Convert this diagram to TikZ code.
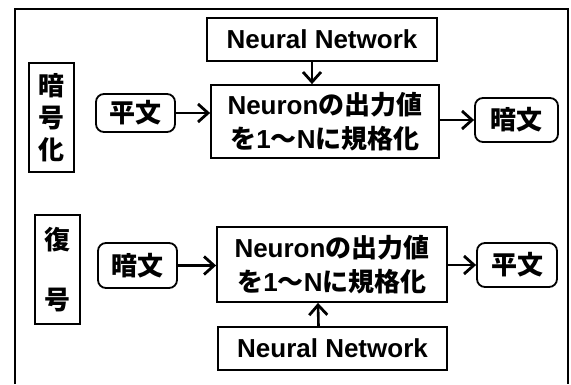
\documentclass[tikz,border=0pt]{standalone}
\usepackage{fontspec}
\setmainfont{Liberation Sans}
\newfontfamily\cjk{Noto Sans CJK JP}
\usetikzlibrary{arrows.meta,calc}
\begin{document}
\begin{tikzpicture}[x=1pt,y=-1pt,
  box/.style={draw,line width=1.8pt,inner sep=0pt,align=center,font=\bfseries\fontsize{26}{34}\selectfont},
  rbox/.style={box,rounded corners=8pt},
  arr/.style={line width=2.6pt,-{Straight Barb[length=10pt,width=18pt,line width=2.8pt]}},
  frame/.style={line width=1.4pt}]
\useasboundingbox (0,0) rectangle (571,384);
\draw[frame] (15,384) -- (15,9) -- (568,9) -- (568,384);
% encryption
\node[box,minimum width=230pt,minimum height=43pt] (nn1) at (322,39.5) {Neural Network};
\node[box,minimum width=228pt,minimum height=73pt] (main1) at (325,121.5) {Neuron{\cjk の出力値}\\{\cjk を}1{\cjk 〜}N{\cjk に規格化}};
\node[box,minimum width=45pt,minimum height=109pt] (enc) at (51.5,117.5) {{\cjk 暗}\\[-2pt]{\cjk 号}\\[-2pt]{\cjk 化}};
\node[rbox,minimum width=79pt,minimum height=38pt] (p1) at (135.5,113) {\cjk 平文};
\node[rbox,minimum width=83pt,minimum height=44pt] (c1) at (516.5,120) {\cjk 暗文};
\draw[arr] ($(nn1.south)+(-10,0)$) -- ($(main1.north)+(-13,0)$);
\draw[arr] (p1.east) -- (p1.east -| main1.west);
\draw[arr] (main1.east |- c1.west) -- (c1.west);
% decryption
\node[box,minimum width=45pt,minimum height=109pt] (dec) at (57.5,269.5) {{\cjk 復}\\[26pt]{\cjk 号}};
\node[rbox,minimum width=79pt,minimum height=45pt] (c2) at (137.5,265.5) {\cjk 暗文};
\node[box,minimum width=230pt,minimum height=75pt] (main2) at (332,264.5) {Neuron{\cjk の出力値}\\{\cjk を}1{\cjk 〜}N{\cjk に規格化}};
\node[rbox,minimum width=80pt,minimum height=44pt] (p2) at (517,265) {\cjk 平文};
\node[box,minimum width=229pt,minimum height=43pt] (nn2) at (332.5,348.5) {Neural Network};
\draw[arr] (c2.east) -- (c2.east -| main2.west);
\draw[arr] (main2.east |- p2.west) -- (p2.west);
\draw[arr] ($(nn2.north)+(-14,0)$) -- ($(main2.south)+(-14,0)$);
\end{tikzpicture}
\end{document}
